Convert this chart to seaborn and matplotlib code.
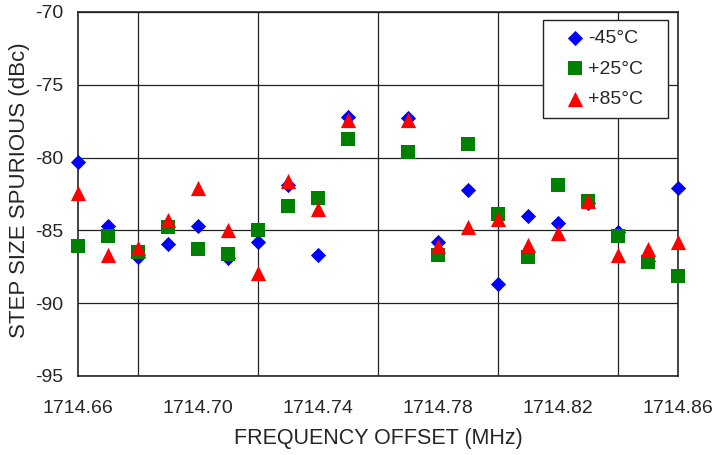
import matplotlib
matplotlib.use('Agg')
import matplotlib.pyplot as plt
import seaborn as sns
import numpy as np
import pandas as pd
from matplotlib.ticker import FixedLocator

# Frequency offsets (MHz), one point every 10 kHz (no reading at 1714.76)
freq = [1714.66, 1714.67, 1714.68, 1714.69, 1714.70, 1714.71, 1714.72,
        1714.73, 1714.74, 1714.75, 1714.76, 1714.77, 1714.78, 1714.79,
        1714.80, 1714.81, 1714.82, 1714.83, 1714.84, 1714.85, 1714.86]

# step size spurious (dBc) per temperature
minus45 = [-80.3, -84.7, -86.8, -85.9, -84.7, -86.9, -85.8, -81.9, -86.7, -77.2, np.nan,
           -77.3, -85.8, -82.2, -88.7, -84.0, -84.5, -83.1, -85.1, -87.1, -82.1]
plus25 = [-86.1, -85.4, -86.5, -84.8, -86.3, -86.6, -85.0, -83.3, -82.8, -78.7, np.nan,
          -79.6, -86.7, -79.1, -83.9, -86.8, -81.9, -83.0, -85.4, -87.2, -88.1]
plus85 = [-82.4, -86.7, -86.2, -84.3, -82.1, -85.0, -87.9, -81.6, -83.5, -77.4, np.nan,
          -77.4, -86.1, -84.8, -84.2, -86.0, -85.2, -83.0, -86.7, -86.3, -85.8]

series_names = ['-45°C', '+25°C', '+85°C']
xtick_vals = [1714.66, 1714.70, 1714.74, 1714.78, 1714.82, 1714.86]
xtick_labels = ['1714.66', '1714.70', '1714.74', '1714.78', '1714.82', '1714.86']
xgrid_vals = [1714.66, 1714.68, 1714.70, 1714.72, 1714.74, 1714.76, 1714.78,
              1714.80, 1714.82, 1714.84, 1714.86]
ytick_vals = [-95, -90, -85, -80, -75, -70]
ytick_labels = ['-95', '-90', '-85', '-80', '-75', '-70']

df = pd.DataFrame({'freq': freq, '-45°C': minus45, '+25°C': plus25, '+85°C': plus85})

sns.set_style('white')
plt.rcParams['font.family'] = ['Liberation Sans', 'DejaVu Sans']
plt.rcParams['axes.unicode_minus'] = False

fig = plt.figure(figsize=(7.14, 4.55), dpi=100)
ax = fig.add_axes([78 / 714, (455 - 376) / 455, 600 / 714, 364 / 455])

styles = {
    '-45°C': dict(marker='D', color='#0000ff', s=60),
    '+25°C': dict(marker='s', color='#008000', s=110),
    '+85°C': dict(marker='^', color='#ff0000', s=120),
}
for name in series_names:
    st = styles[name]
    sns.scatterplot(x='freq', y=name, data=df, ax=ax, marker=st['marker'],
                    color=st['color'], s=st['s'], linewidth=0, label=name,
                    zorder=3, clip_on=False)

ax.set_xlim(1714.66, 1714.86)
ax.set_ylim(-95, -70)
ax.xaxis.set_major_locator(FixedLocator(xtick_vals))
ax.xaxis.set_minor_locator(FixedLocator(xgrid_vals))
ax.set_xticklabels(xtick_labels)
ax.yaxis.set_major_locator(FixedLocator(ytick_vals))
ax.set_yticklabels(ytick_labels)

ax.grid(True, which='major', axis='y', color='#222222', linewidth=0.9)
ax.grid(True, which='minor', axis='x', color='#222222', linewidth=0.9)
ax.set_axisbelow(True)
ax.tick_params(axis='both', which='major', direction='out', length=5, width=1,
               color='#222222', labelsize=14)
ax.tick_params(axis='y', which='major', pad=5.5)
ax.tick_params(axis='x', which='major', pad=12)
ax.tick_params(axis='x', which='minor', length=0)
for sp in ax.spines.values():
    sp.set_color('#222222')
    sp.set_linewidth(1.2)

ax.set_xlabel('FREQUENCY OFFSET (MHz)', fontsize=15.5, labelpad=8)
ax.set_ylabel('STEP SIZE SPURIOUS (dBc)', fontsize=16)
ax.yaxis.set_label_coords(-0.08, 0.51)

leg = ax.legend(loc='upper left', bbox_to_anchor=(0.775, 0.5, 0.208, 0.478),
                mode='expand', borderaxespad=0, fontsize=14,
                frameon=True, fancybox=False, framealpha=1, edgecolor='#222222',
                handletextpad=-0.5, labelspacing=0.65, borderpad=0.5,
                handlelength=2.3)
leg.get_frame().set_linewidth(1.0)

fig.savefig('out.png', dpi=100)
